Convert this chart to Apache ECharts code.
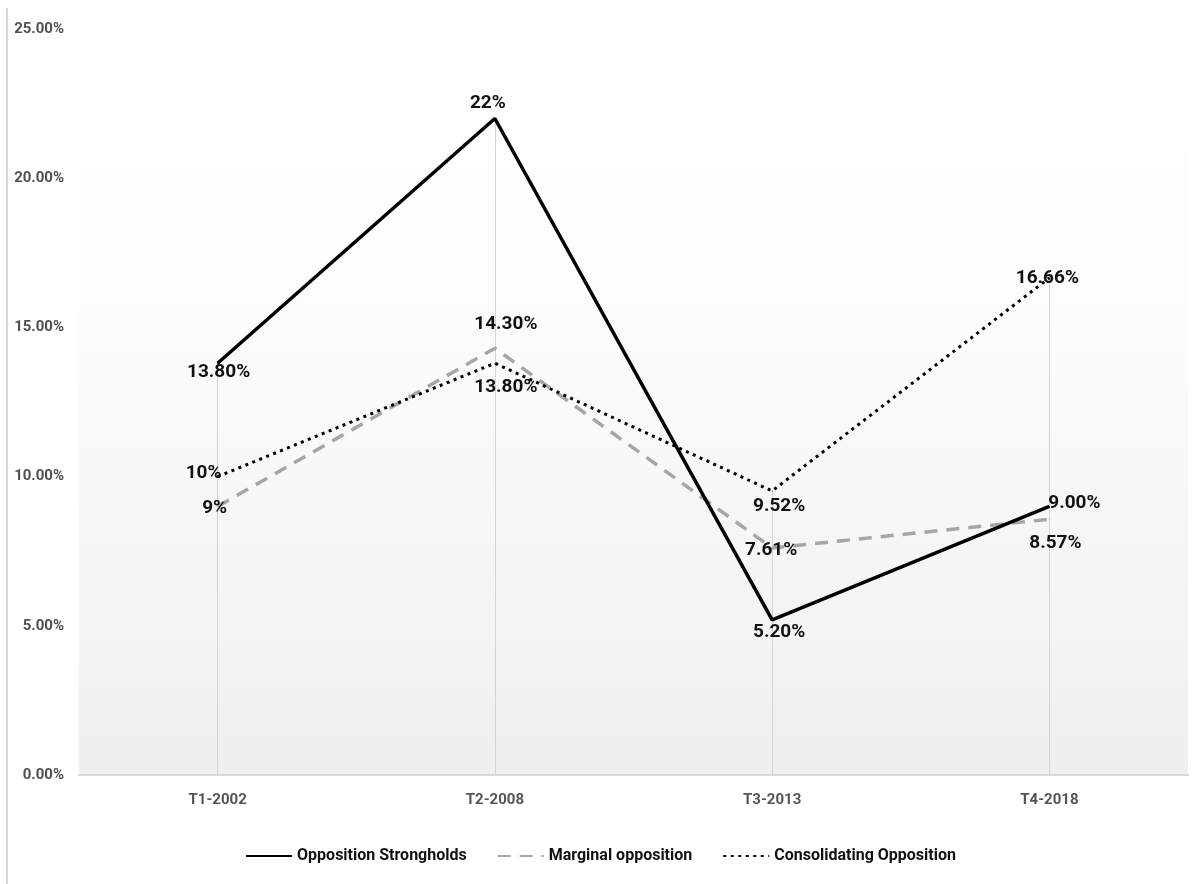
<!DOCTYPE html>
<html>
<head>
<meta charset="utf-8">
<script src="https://cdn.jsdelivr.net/npm/echarts@6/dist/echarts.min.js"></script>
<style>
  html, body { margin: 0; padding: 0; background: #ffffff; }
  #chart { width: 1201px; height: 884px; }
</style>
</head>
<body>
<div id="chart"></div>
<script>
// Periods on the category axis
const categories = ['T1-2002', 'T2-2008', 'T3-2013', 'T4-2018'];

// Share per period (percent)
const strongholds = [13.8, 22, 5.2, 9.0];
const marginal = [9, 14.3, 7.61, 8.57];
const consolidating = [10, 13.8, 9.52, 16.66];

// Decimal places shown in each point's label
const strongholdsDecimals = [2, 0, 2, 2];
const marginalDecimals = [0, 2, 2, 2];
const consolidatingDecimals = [0, 2, 2, 2];

// Value axis range (percent)
const yMin = 0;
const yMax = 25;
const yStep = 5;

const seriesNames = ['Opposition Strongholds', 'Marginal opposition', 'Consolidating Opposition'];
const titleText = 'Figure 10: Opposition winning rate in areas as a proportion';

// Label nudges (pixels from each point)
const strongholdsLabelShift = [[1, 9], [-7, -15], [7, 12], [25, -3]];
const marginalLabelShift = [[-3, 2], [11, -24], [-1, 2], [6, 24]];
const consolidatingLabelShift = [[-14, -3], [11, 24], [7, 15], [-2, 0]];

const sans = "'Roboto', 'Liberation Sans', sans-serif";

function pointData(values, decimals, shifts) {
  return values.map((v, i) => ({
    value: v,
    label: {
      offset: shifts[i],
      formatter: () => v.toFixed(decimals[i]) + '%'
    }
  }));
}

// Drop lines from the highest value in each period to the axis
const dropLines = categories.map((c, i) => {
  const top = Math.max(strongholds[i], marginal[i], consolidating[i]);
  return [{ coord: [c, top] }, { coord: [c, yMin] }];
});

const labelStyle = {
  show: true,
  position: 'inside',
  color: '#111111',
  fontFamily: sans,
  fontWeight: 'bold',
  fontSize: 19
};

const chart = echarts.init(document.getElementById('chart'), null, { renderer: 'canvas' });

chart.setOption({
  animation: false,
  backgroundColor: '#ffffff',
  graphic: [
    {
      // Heading runs off the top edge of the page
      type: 'text',
      x: 12,
      y: 1,
      silent: true,
      style: {
        text: titleText,
        fill: '#000000',
        fontFamily: "'Liberation Serif', 'Times New Roman', serif",
        fontWeight: 'bold',
        fontSize: 38,
        align: 'left',
        verticalAlign: 'bottom'
      }
    },
    {
      type: 'line',
      shape: { x1: 7, y1: 8, x2: 7, y2: 884 },
      style: { stroke: '#d6d6d6', lineWidth: 2 },
      silent: true
    }
  ],
  legend: {
    top: 843,
    left: 'center',
    itemWidth: 46,
    itemHeight: 14,
    itemGap: 30,
    itemStyle: { opacity: 0 },
    textStyle: {
      fontFamily: sans,
      fontWeight: 'bold',
      fontSize: 16,
      color: '#111111'
    },
    data: seriesNames
  },
  grid: {
    left: 79,
    right: 13,
    top: 29,
    bottom: 109,
    show: true,
    borderWidth: 0,
    backgroundColor: new echarts.graphic.LinearGradient(0, 0, 0, 1, [
      { offset: 0, color: '#ffffff' },
      { offset: 0.35, color: '#fdfdfd' },
      { offset: 1, color: '#efefef' }
    ])
  },
  xAxis: {
    type: 'category',
    data: categories,
    boundaryGap: true,
    axisLine: { show: true, lineStyle: { color: '#d9d9d9', width: 2 } },
    axisTick: { show: false },
    splitLine: { show: false },
    axisLabel: {
      margin: 18,
      color: '#555555',
      fontFamily: sans,
      fontWeight: 'bold',
      fontSize: 15
    }
  },
  yAxis: {
    type: 'value',
    min: yMin,
    max: yMax,
    interval: yStep,
    axisLine: { show: false },
    axisTick: { show: false },
    splitLine: { show: false },
    axisLabel: {
      margin: 15,
      color: '#505050',
      fontFamily: sans,
      fontWeight: 'bold',
      fontSize: 15,
      formatter: v => v.toFixed(2) + '%'
    }
  },
  series: [
    {
      name: seriesNames[0],
      type: 'line',
      data: pointData(strongholds, strongholdsDecimals, strongholdsLabelShift),
      symbol: 'circle',
      symbolSize: 1,
      showSymbol: true,
      itemStyle: { color: '#000000' },
      lineStyle: { color: '#000000', width: 3.5, type: 'solid' },
      label: labelStyle,
      z: 4,
      markLine: {
        silent: true,
        symbol: ['none', 'none'],
        label: { show: false },
        lineStyle: { color: '#d4d4d4', width: 1, type: 'solid' },
        data: dropLines,
        z: 1
      }
    },
    {
      name: seriesNames[1],
      type: 'line',
      data: pointData(marginal, marginalDecimals, marginalLabelShift),
      symbol: 'circle',
      symbolSize: 1,
      showSymbol: true,
      itemStyle: { color: '#a6a6a6' },
      lineStyle: { color: '#a6a6a6', width: 3.5, type: [13, 9] },
      label: labelStyle,
      z: 3
    },
    {
      name: seriesNames[2],
      type: 'line',
      data: pointData(consolidating, consolidatingDecimals, consolidatingLabelShift),
      symbol: 'circle',
      symbolSize: 1,
      showSymbol: true,
      itemStyle: { color: '#000000' },
      lineStyle: { color: '#000000', width: 3, type: [3, 4.5] },
      label: labelStyle,
      z: 5
    }
  ]
});
</script>
</body>
</html>
